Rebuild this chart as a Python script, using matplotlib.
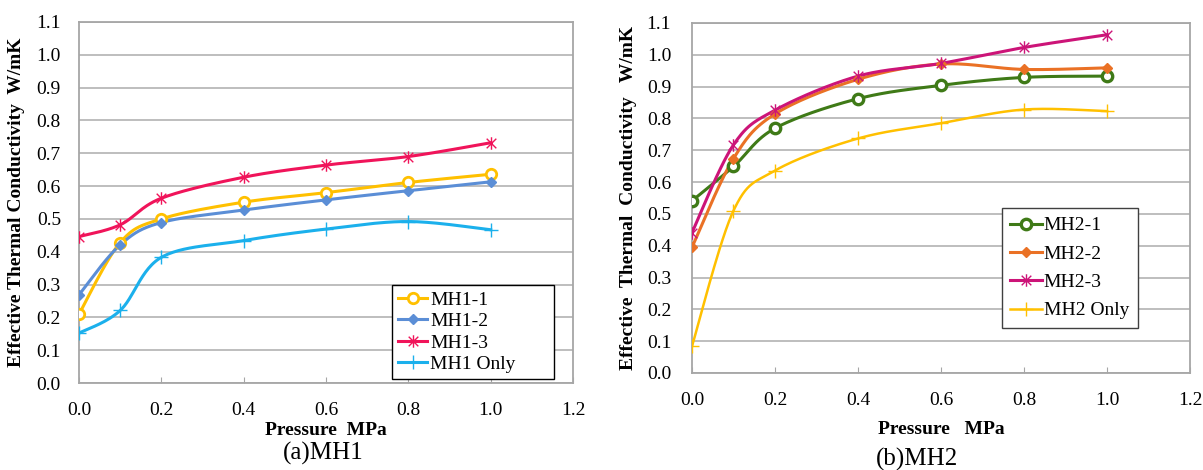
import numpy as np
import matplotlib
matplotlib.use("Agg")
import matplotlib.pyplot as plt
from matplotlib.path import Path

# %% data
pressure = [0.0, 0.1, 0.2, 0.4, 0.6, 0.8, 1.0]

mh1_1 = [0.210, 0.428, 0.500, 0.551, 0.580, 0.611, 0.636]
mh1_2 = [0.269, 0.421, 0.489, 0.527, 0.558, 0.586, 0.613]
mh1_3 = [0.446, 0.482, 0.563, 0.627, 0.664, 0.690, 0.732]
mh1_only = [0.152, 0.221, 0.383, 0.434, 0.469, 0.492, 0.467]

mh2_1 = [0.541, 0.649, 0.769, 0.862, 0.904, 0.929, 0.933]
mh2_2 = [0.395, 0.674, 0.814, 0.923, 0.971, 0.954, 0.959]
mh2_3 = [0.441, 0.717, 0.826, 0.933, 0.973, 1.023, 1.063]
mh2_only = [0.084, 0.510, 0.636, 0.737, 0.785, 0.828, 0.823]

labels1 = ["MH1-1", "MH1-2", "MH1-3", "MH1 Only"]
labels2 = ["MH2-1", "MH2-2", "MH2-3", "MH2 Only"]

plt.rcParams["font.family"] = ["Liberation Serif", "DejaVu Serif"]

# excel-like asterisk marker (x plus vertical bar)
star = Path([(-1, -1), (1, 1), (-1, 1), (1, -1), (0, -1.3), (0, 1.3)],
            [Path.MOVETO, Path.LINETO, Path.MOVETO, Path.LINETO, Path.MOVETO, Path.LINETO])


# %% smoothing like excel (catmull-rom / bezier)
def smooth(x, y, n=30):
    p = np.column_stack([x, y]).astype(float)
    pts = [p[0]]
    for i in range(len(p) - 1):
        p0 = p[i - 1] if i > 0 else p[i]
        p1 = p[i]
        p2 = p[i + 1]
        p3 = p[i + 2] if i + 2 < len(p) else p[i + 1]
        c1 = p1 + (p2 - p0) / 6
        c2 = p2 - (p3 - p1) / 6
        t = np.linspace(0, 1, n)[1:, None]
        b = (1 - t) ** 3 * p1 + 3 * (1 - t) ** 2 * t * c1 + 3 * (1 - t) * t ** 2 * c2 + t ** 3 * p2
        pts.extend(b)
    pts = np.array(pts)
    return pts[:, 0], pts[:, 1]


def draw(ax, x, y, color, marker, label, ms, mfc, mew, lw=2.2):
    sx, sy = smooth(x, y)
    ax.plot(sx, sy, color=color, lw=lw, zorder=3)
    ax.plot(x, y, ls="none", marker=marker, ms=ms, mfc=mfc, mec=color, mew=mew, zorder=4)
    # legend proxy
    ax.plot([], [], color=color, lw=lw, marker=marker, ms=ms, mfc=mfc, mec=color, mew=mew, label=label)


def style(ax, ypad):
    ax.set_xlim(0, 1.2)
    ax.set_ylim(0, 1.1)
    ax.set_xticks(np.arange(0, 1.21, 0.2))
    ax.set_yticks(np.arange(0, 1.11, 0.1))
    ax.xaxis.set_major_formatter(matplotlib.ticker.FormatStrFormatter("%.1f"))
    ax.yaxis.set_major_formatter(matplotlib.ticker.FormatStrFormatter("%.1f"))
    ax.grid(axis="y", color="#b3b3b3", lw=1.2)
    ax.set_axisbelow(True)
    for s in ax.spines.values():
        s.set_color("#a6a6a6")
        s.set_linewidth(1.3)
    ax.tick_params(axis="x", direction="in", length=4, color="#a6a6a6", labelsize=14, pad=14)
    ax.tick_params(axis="y", length=0, labelsize=14, pad=ypad)


fig = plt.figure(figsize=(12.03, 4.70), dpi=100)

# %% (a) MH1
ax1 = fig.add_axes([0.0657, 0.1851, 0.4106, 0.7681])
draw(ax1, pressure, mh1_1, "#FFC000", "o", labels1[0], 7.5, "white", 2.0)
draw(ax1, pressure, mh1_2, "#5B8ED6", "D", labels1[1], 5.5, "#5B8ED6", 1.0)
draw(ax1, pressure, mh1_3, "#F0145A", star, labels1[2], 9, "none", 1.0)
draw(ax1, pressure, mh1_only, "#1BB0EC", "+", labels1[3], 10, "none", 1.0)
style(ax1, 13)
ax1.set_xlabel("Pressure  MPa", fontsize=14, fontweight="bold", labelpad=2)
ax1.set_ylabel("Effective Thermal Conductivity  W/mK", fontsize=14, fontweight="bold")
ax1.yaxis.set_label_coords(-0.11, 0.5)
leg1 = ax1.legend(loc="upper left", bbox_to_anchor=(0.634, 0.011, 0.328, 0.26), mode="expand",
                  borderaxespad=0, fontsize=14, fancybox=False, framealpha=1, edgecolor="black",
                  handlelength=1.5, handletextpad=0.15, labelspacing=0.2, borderpad=0.3)
leg1.get_frame().set_linewidth(1.0)

# %% (b) MH2
ax2 = fig.add_axes([0.5752, 0.2064, 0.4140, 0.7447])
draw(ax2, pressure, mh2_1, "#3F7A17", "o", labels2[0], 7.5, "white", 2.4)
draw(ax2, pressure, mh2_2, "#EA7125", "D", labels2[1], 5.5, "#EA7125", 1.0)
draw(ax2, pressure, mh2_3, "#CC1478", star, labels2[2], 9, "none", 1.0)
draw(ax2, pressure, mh2_only, "#FFC000", "+", labels2[3], 10, "none", 1.0, lw=1.8)
style(ax2, 15)
ax2.set_xlabel("Pressure   MPa", fontsize=14, fontweight="bold", labelpad=8)
ax2.set_ylabel("Effective  Thermal  Conductivity   W/mK", fontsize=14, fontweight="bold")
ax2.yaxis.set_label_coords(-0.11, 0.5)
leg2 = ax2.legend(loc="upper left", bbox_to_anchor=(0.622, 0.471), borderaxespad=0,
                  fontsize=14, fancybox=False, framealpha=1, edgecolor="#404040",
                  handlelength=1.6, handletextpad=0.1, labelspacing=0.55, borderpad=0.45)
leg2.get_frame().set_linewidth(1.0)

# %% captions
fig.text(0.269, 0.036, "(a)MH1", fontsize=18, ha="center", va="center")
fig.text(0.762, 0.022, "(b)MH2", fontsize=18, ha="center", va="center")

fig.savefig("out.png", dpi=100)
